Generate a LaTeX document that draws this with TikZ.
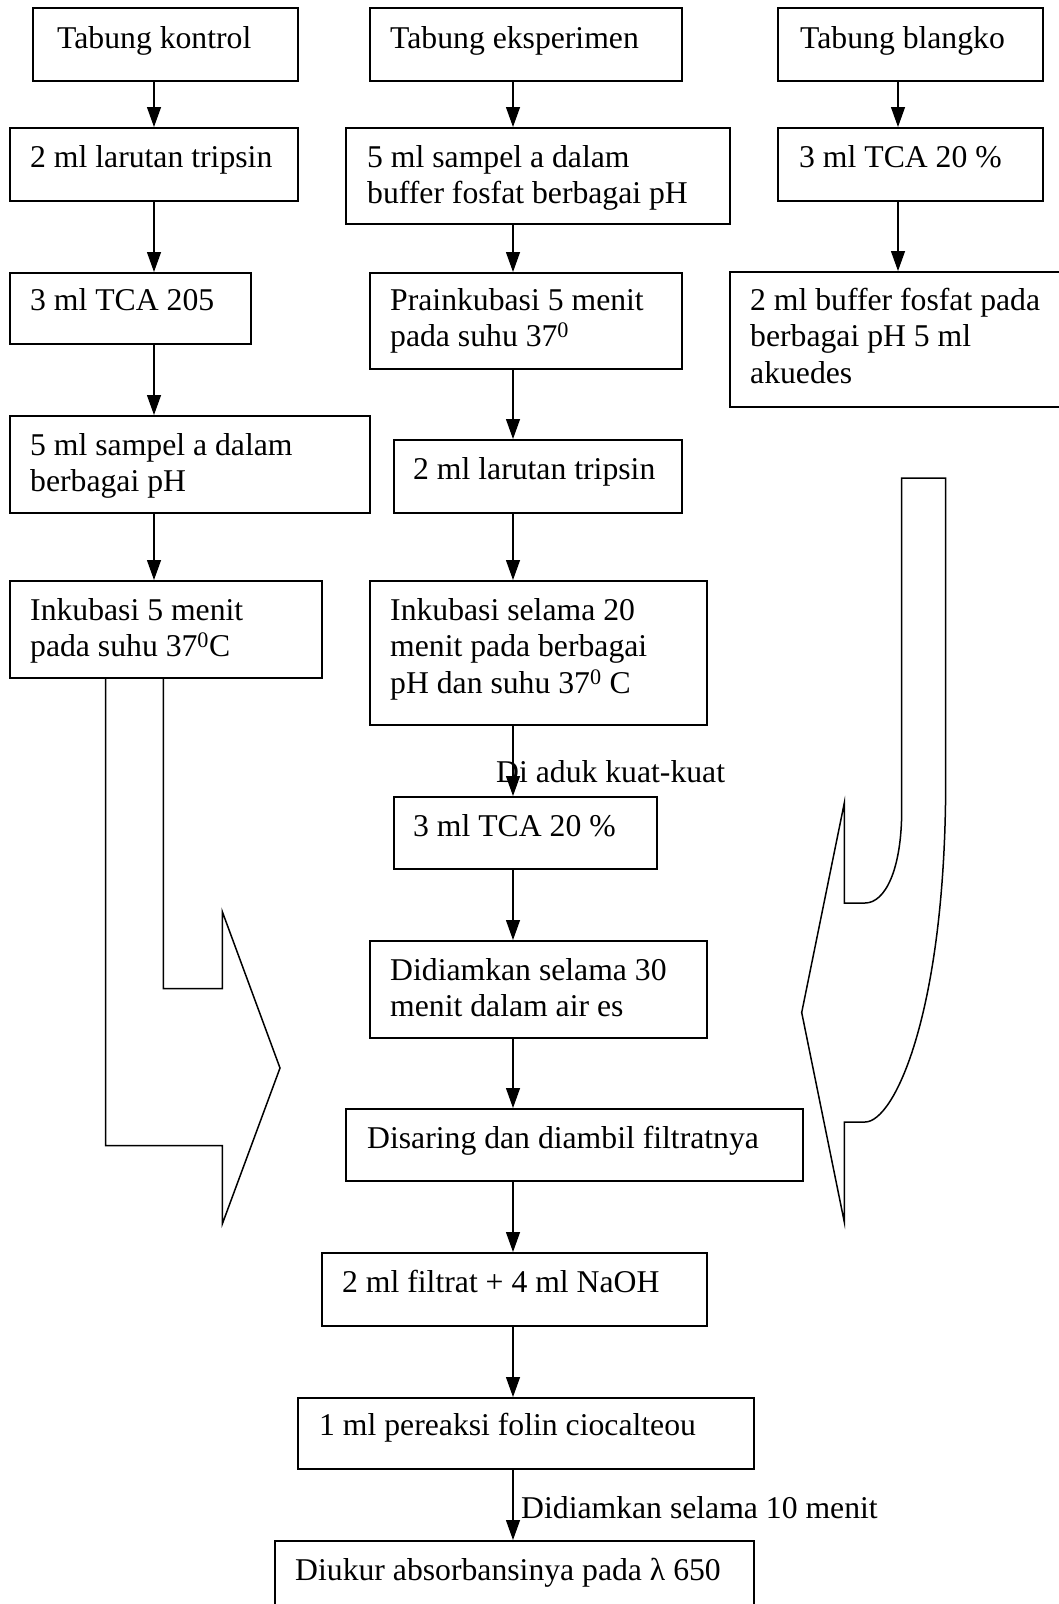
\documentclass[tikz,border=0pt]{standalone}
\usepackage{fontspec}
\setmainfont{Liberation Serif}
\usetikzlibrary{arrows.meta}
\tikzset{
  box/.style={draw, line width=1.6pt, anchor=north west, inner sep=0pt, fill=white},
  txt/.style={inner sep=0pt, anchor=base west, align=left, font=\fontsize{31.7}{36.6}\selectfont},
  arr/.style={line width=1.3pt, -{Triangle[length=20pt, width=14pt]}},
  blk/.style={line width=1.5pt, line join=miter, fill=white}
}
\newcommand\bx[5]{\node[box, minimum width={#4-#2}, minimum height={#5-#3}] (#1) at (#2,#3) {};}
\begin{document}
\begin{tikzpicture}[x=1pt, y=-1pt]
\useasboundingbox (0,0) rectangle (1059,1604);
\fill[white] (0,0) rectangle (1059,1604);
\clip (0,0) rectangle (1059,1604);
\coordinate (cL) at (154,0);
\coordinate (cM) at (513,0);
\coordinate (cR) at (898,0);
% block arrows
\draw[blk] (105.7,677) -- (105.7,1145.5) -- (222.3,1145.5) -- (222.3,1224) -- (280,1068)
  -- (222.3,911.6) -- (222.3,988.5) -- (163.3,988.5) -- (163.3,677) -- cycle;
\draw[blk] (901.7,478) -- (901.7,810) .. controls (901.7,870) and (885,903) .. (865,903)
  -- (844.3,903) -- (844.3,803) -- (801.7,1012.5) -- (844.3,1222) -- (844.3,1122) -- (865,1122)
  .. controls (895,1122) and (945.7,1010) .. (945.7,780) -- (945.7,478) -- cycle;
% left column
\bx{k0}{32}{7}{297}{80}
\bx{k1}{9}{127}{297}{200}
\bx{k2}{9}{272}{250}{343}
\bx{k3}{9}{415}{369}{512}
\bx{k4}{9}{580}{321}{677}
% middle column
\bx{e0}{369}{7}{681}{80}
\bx{e1}{345}{127}{729}{223}
\bx{e2}{369}{272}{681}{368}
\bx{e3}{393}{439}{681}{512}
\bx{e4}{369}{580}{706}{724}
\bx{e5}{393}{796}{656}{868}
\bx{e6}{369}{940}{706}{1037}
\bx{e7}{345}{1108}{802}{1180}
\bx{e8}{321}{1252}{706}{1325}
\bx{e9}{297}{1397}{753}{1468}
\bx{e10}{274}{1540}{753}{1625}
% right column
\bx{b0}{777}{7}{1042}{80}
\bx{b1}{777}{127}{1042}{200}
\bx{b2}{729}{271}{1075}{406}
% texts (base anchor = baseline of last line)
\node[txt] (tk0) at (57,48) {Tabung kontrol};
\node[txt] (tk1) at (30,167) {2 ml larutan tripsin};
\node[txt] (tk2) at (30,310) {3 ml TCA 205};
\node[txt] (tk3) at (30,491.6) {5 ml sampel a dalam\\berbagai pH};
\node[txt] (tk4) at (30,656.6) {Inkubasi 5 menit\\pada suhu 37\textsuperscript{0}C};
\node[txt] (te0) at (390,48) {Tabung eksperimen};
\node[txt] (te1) at (367,203.6) {5 ml sampel a dalam\\buffer fosfat berbagai pH};
\node[txt] (te2) at (390,346.6) {Prainkubasi 5 menit\\pada suhu 37\textsuperscript{0}};
\node[txt] (te3) at (413,479) {2 ml larutan tripsin};
\node[txt] (te4) at (390,693.2) {Inkubasi selama 20\\menit pada berbagai\\pH dan suhu 37\textsuperscript{0} C};
\node[txt] (te5) at (413,836) {3 ml TCA 20 \%};
\node[txt] (te6) at (390,1016.6) {Didiamkan selama 30\\menit dalam air es};
\node[txt] (te7) at (367,1148) {Disaring dan diambil filtratnya};
\node[txt] (te8) at (342,1292) {2 ml filtrat + 4 ml NaOH};
\node[txt] (te9) at (319,1435) {1 ml pereaksi folin ciocalteou};
\node[txt] (te10) at (295,1580) {Diukur absorbansinya pada λ 650};
\node[txt] (tb0) at (800,48) {Tabung blangko};
\node[txt] (tb1) at (799,167) {3 ml TCA 20 \%};
\node[txt] (tb2) at (750,383.2) {2 ml buffer fosfat pada\\berbagai pH 5 ml\\akuedes};
% connectors
\draw[arr] (k0.south -| cL) -- (k1.north -| cL);
\draw[arr] (k1.south -| cL) -- (k2.north -| cL);
\draw[arr] (k2.south -| cL) -- (k3.north -| cL);
\draw[arr] (k3.south -| cL) -- (k4.north -| cL);
\draw[arr] (e0.south -| cM) -- (e1.north -| cM);
\draw[arr] (e1.south -| cM) -- (e2.north -| cM);
\draw[arr] (e2.south -| cM) -- (e3.north -| cM);
\draw[arr] (e3.south -| cM) -- (e4.north -| cM);
\draw[arr] (e4.south -| cM) -- (e5.north -| cM);
\draw[arr] (e5.south -| cM) -- (e6.north -| cM);
\draw[arr] (e6.south -| cM) -- (e7.north -| cM);
\draw[arr] (e7.south -| cM) -- (e8.north -| cM);
\draw[arr] (e8.south -| cM) -- (e9.north -| cM);
\draw[arr] (e9.south -| cM) -- (e10.north -| cM);
\draw[arr] (b0.south -| cR) -- (b1.north -| cR);
\draw[arr] (b1.south -| cR) -- (b2.north -| cR);
% connector labels
\node[txt] (l1) at (496,782) {Di aduk kuat-kuat};
\node[txt] (l2) at (521,1518) {Didiamkan selama 10 menit};
\end{tikzpicture}
\end{document}
